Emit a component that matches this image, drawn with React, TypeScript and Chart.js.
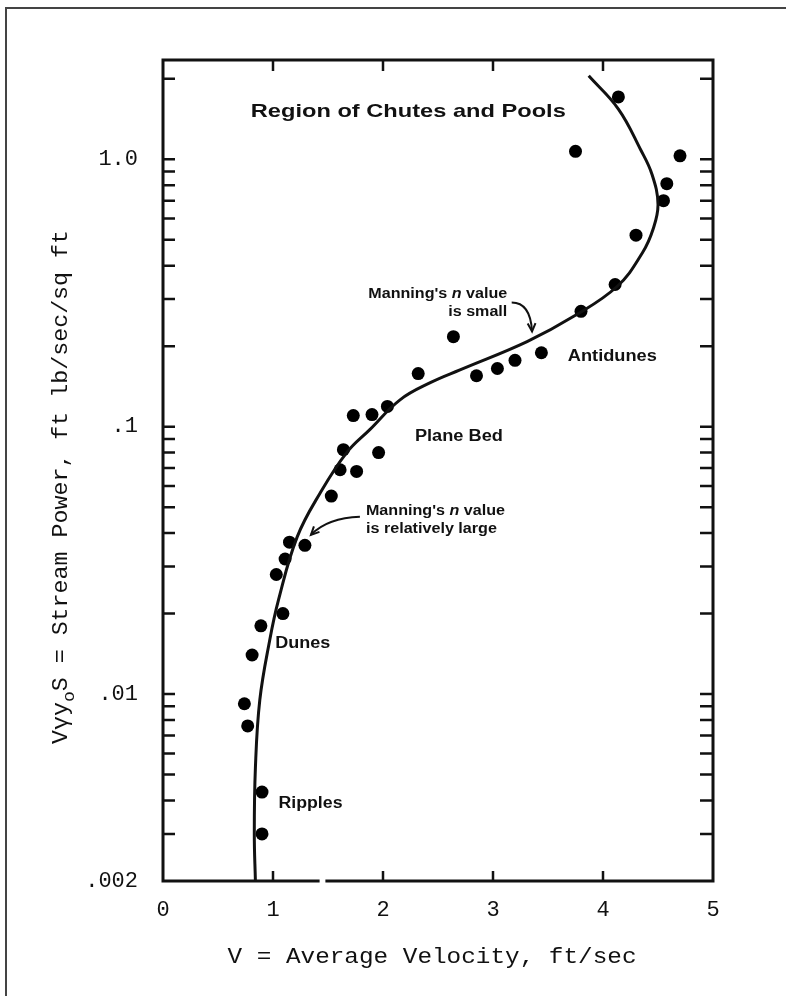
import React, { useEffect, useRef } from "react";
import { Chart, registerables } from "chart.js";

Chart.register(...registerables);

// ---- data ----
const obsVelocity = [4.14, 3.75, 4.70, 4.58, 4.55, 4.30, 4.11, 3.80, 2.64, 2.32, 2.85, 3.04, 3.20, 3.44, 1.73, 1.90, 2.04, 1.64, 1.96, 1.61, 1.76, 1.53, 1.15, 1.29, 1.11, 1.03, 1.09, 0.89, 0.81, 0.74, 0.77, 0.90, 0.90];
const obsPower = [1.71, 1.07, 1.03, 0.81, 0.70, 0.52, 0.34, 0.27, 0.217, 0.158, 0.155, 0.165, 0.177, 0.189, 0.110, 0.111, 0.119, 0.082, 0.080, 0.069, 0.068, 0.055, 0.037, 0.036, 0.032, 0.028, 0.020, 0.018, 0.014, 0.0092, 0.0076, 0.0043, 0.0030];

const curveVelocity = [0.84, 0.83, 0.84, 0.88, 0.97, 1.05, 1.22, 1.43, 1.67, 1.88, 2.155, 2.43, 2.70, 3.31, 3.73, 4.13, 4.36, 4.455, 4.50, 4.445, 4.34, 4.14, 3.87];
const curvePower = [0.002, 0.003, 0.0053, 0.0095, 0.0159, 0.0225, 0.0387, 0.0566, 0.080, 0.0975, 0.126, 0.146, 0.163, 0.208, 0.258, 0.335, 0.448, 0.547, 0.678, 0.879, 1.09, 1.54, 2.05];

const xRange = [0, 5];
const yRange = [0.002, 2.35];
const xTickValues = [0, 1, 2, 3, 4, 5];
const xInnerTicks = [1, 2, 3, 4];
const yLabeledTicks = [0.002, 0.01, 0.1, 1];
const yTickText = [".002", ".01", ".1", "1.0"];
const yMinorTicks = [
  0.003, 0.004, 0.005, 0.006, 0.007, 0.008, 0.009, 0.01,
  0.02, 0.03, 0.04, 0.05, 0.06, 0.07, 0.08, 0.09, 0.1,
  0.2, 0.3, 0.4, 0.5, 0.6, 0.7, 0.8, 0.9, 1, 2,
];
const axisBreak = [1.41, 1.49];

const xTitle = "V = Average Velocity, ft/sec";
const yTitleParts = ["V\u03B3y", "o", "S = Stream Power, ft lb/sec/sq ft"];

const regionText = ["Region of Chutes and Pools", "Antidunes", "Plane Bed", "Dunes", "Ripples"];
const regionV = [2.23, 3.68, 2.29, 1.02, 1.05];
const regionP = [1.50, 0.183, 0.0918, 0.0155, 0.0039];

const noteLine1 = ["Manning's ", "n", " value"];
const smallNoteLine2 = "is small";
const largeNoteLine2 = "is relatively large";
const smallNoteV = 3.13;
const smallNoteP = [0.312, 0.267];
const largeNoteV = 1.845;
const largeNoteP = [0.0485, 0.0415];
// arrows: start, control, end  (velocity, power)
const smallArrow = [[3.17, 0.291], [3.34, 0.291], [3.355, 0.227]];
const largeArrow = [[1.79, 0.046], [1.5, 0.0456], [1.345, 0.0394]];

const MONO = "'Liberation Mono', 'DejaVu Sans Mono', monospace";
const SANS = "'Liberation Sans', Arial, 'Noto Sans', sans-serif";
const INK = "#111";

type Seg = { text: string; font: string; dy?: number };

function drawRich(ctx: CanvasRenderingContext2D, segs: Seg[], x: number, y: number, width: number, align: "left" | "center" | "right") {
  ctx.save();
  let total = 0;
  const ws = segs.map((s) => {
    ctx.font = s.font;
    const w = ctx.measureText(s.text).width;
    total += w;
    return w;
  });
  const sx = width ? width / total : 1;
  ctx.translate(x, y);
  ctx.scale(sx, 1);
  let cx = align === "left" ? 0 : align === "center" ? -total / 2 : -total;
  ctx.textAlign = "left";
  ctx.textBaseline = "middle";
  ctx.fillStyle = INK;
  segs.forEach((s, i) => {
    ctx.font = s.font;
    ctx.fillText(s.text, cx, s.dy || 0);
    cx += ws[i];
  });
  ctx.restore();
}

function drawArrow(ctx: CanvasRenderingContext2D, pts: number[][]) {
  const [a, c, b] = pts;
  ctx.save();
  ctx.strokeStyle = INK;
  ctx.lineWidth = 2;
  ctx.beginPath();
  ctx.moveTo(a[0], a[1]);
  ctx.quadraticCurveTo(c[0], c[1], b[0], b[1]);
  ctx.stroke();
  const ang = Math.atan2(b[1] - c[1], b[0] - c[0]);
  const L = 9;
  ctx.beginPath();
  ctx.moveTo(b[0] - L * Math.cos(ang - 0.45), b[1] - L * Math.sin(ang - 0.45));
  ctx.lineTo(b[0], b[1]);
  ctx.lineTo(b[0] - L * Math.cos(ang + 0.45), b[1] - L * Math.sin(ang + 0.45));
  ctx.stroke();
  ctx.restore();
}

const decorPlugin = {
  id: "figureDecor",
  afterDraw(chart: any) {
    const ctx: CanvasRenderingContext2D = chart.ctx;
    const xs = chart.scales.x;
    const ys = chart.scales.y;
    const { left, right, top, bottom } = chart.chartArea;
    const px = (v: number) => xs.getPixelForValue(v);
    const py = (v: number) => ys.getPixelForValue(v);

    ctx.save();
    // outer frame of the figure
    ctx.strokeStyle = "#444";
    ctx.lineWidth = 2;
    ctx.beginPath();
    ctx.moveTo(6, chart.height);
    ctx.lineTo(6, 8);
    ctx.lineTo(chart.width, 8);
    ctx.stroke();

    // plot box
    ctx.strokeStyle = INK;
    ctx.lineWidth = 3;
    ctx.lineCap = "square";
    ctx.beginPath();
    ctx.moveTo(px(axisBreak[0]), bottom);
    ctx.lineTo(left, bottom);
    ctx.lineTo(left, top);
    ctx.lineTo(right, top);
    ctx.lineTo(right, bottom);
    ctx.lineTo(px(axisBreak[1]), bottom);
    ctx.stroke();

    // inward tick marks
    ctx.lineWidth = 2.5;
    ctx.lineCap = "butt";
    ctx.beginPath();
    yMinorTicks.forEach((v) => {
      const y = py(v);
      ctx.moveTo(left, y);
      ctx.lineTo(left + 12, y);
      ctx.moveTo(right - 13, y);
      ctx.lineTo(right, y);
    });
    xInnerTicks.forEach((v) => {
      const x = px(v);
      ctx.moveTo(x, bottom);
      ctx.lineTo(x, bottom - 10);
      ctx.moveTo(x, top);
      ctx.lineTo(x, top + 11);
    });
    ctx.stroke();
    ctx.restore();

    // axis titles
    drawRich(ctx, [{ text: xTitle, font: `22px ${MONO}` }], 432, 957, 409, "center");
    ctx.save();
    ctx.translate(61, 487);
    ctx.rotate(-Math.PI / 2);
    drawRich(
      ctx,
      [
        { text: yTitleParts[0], font: `22px ${MONO}` },
        { text: yTitleParts[1], font: `17px ${MONO}`, dy: 8 },
        { text: yTitleParts[2], font: `22px ${MONO}` },
      ],
      0,
      0,
      514,
      "center"
    );
    ctx.restore();

    // region labels
    const regionWidths = [315, 89, 88, 55, 64];
    regionText.forEach((t, i) => {
      const size = i === 0 ? 19 : 16;
      drawRich(ctx, [{ text: t, font: `bold ${size}px ${SANS}` }], px(regionV[i]), py(regionP[i]), regionWidths[i], i === 0 ? "center" : "left");
    });

    // Manning notes
    const l1 = (size: number): Seg[] => [
      { text: noteLine1[0], font: `bold ${size}px ${SANS}` },
      { text: noteLine1[1], font: `italic bold ${size}px ${SANS}` },
      { text: noteLine1[2], font: `bold ${size}px ${SANS}` },
    ];
    drawRich(ctx, l1(14), px(smallNoteV), py(smallNoteP[0]), 139, "right");
    drawRich(ctx, [{ text: smallNoteLine2, font: `bold 14px ${SANS}` }], px(smallNoteV), py(smallNoteP[1]), 59, "right");
    drawRich(ctx, l1(14), px(largeNoteV), py(largeNoteP[0]), 139, "left");
    drawRich(ctx, [{ text: largeNoteLine2, font: `bold 14px ${SANS}` }], px(largeNoteV), py(largeNoteP[1]), 131, "left");

    drawArrow(ctx, smallArrow.map((p) => [px(p[0]), py(p[1])]));
    drawArrow(ctx, largeArrow.map((p) => [px(p[0]), py(p[1])]));
  },
};

export default function App() {
  const canvasRef = useRef<HTMLCanvasElement | null>(null);

  useEffect(() => {
    const canvas = canvasRef.current;
    if (!canvas) return;
    const chart = new Chart(canvas, {
      type: "scatter",
      data: {
        datasets: [
          {
            label: "Trend",
            data: curveVelocity.map((v, i) => ({ x: v, y: curvePower[i] })),
            showLine: true,
            borderColor: INK,
            borderWidth: 3,
            pointRadius: 0,
            tension: 0.4,
            fill: false,
          },
          {
            label: "Observed",
            data: obsVelocity.map((v, i) => ({ x: v, y: obsPower[i] })),
            backgroundColor: "#000",
            borderWidth: 0,
            pointRadius: 6.5,
          },
        ],
      },
      plugins: [decorPlugin],
      options: {
        animation: false,
        responsive: false,
        devicePixelRatio: 1,
        layout: { padding: { left: 0, right: 73, top: 60, bottom: 0 } },
        plugins: { legend: { display: false }, tooltip: { enabled: false } },
        scales: {
          x: {
            type: "linear",
            min: xRange[0],
            max: xRange[1],
            bounds: "data",
            grid: { display: false },
            border: { display: false },
            afterFit: (s: any) => {
              s.height = 115;
            },
            afterBuildTicks: (s: any) => {
              s.ticks = xTickValues.map((v) => ({ value: v }));
            },
            ticks: {
              color: INK,
              padding: 8,
              font: { family: MONO, size: 22 },
              callback: (v: any) => String(v),
            },
          },
          y: {
            type: "logarithmic",
            min: yRange[0],
            max: yRange[1],
            bounds: "data",
            grid: { display: false },
            border: { display: false },
            afterFit: (s: any) => {
              s.width = 163;
            },
            afterBuildTicks: (s: any) => {
              s.ticks = yLabeledTicks.map((v) => ({ value: v }));
            },
            ticks: {
              color: INK,
              padding: 17,
              font: { family: MONO, size: 22 },
              callback: (_v: any, i: number) => yTickText[i],
            },
          },
        },
      },
    });
    return () => chart.destroy();
  }, []);

  return (
    <div style={{ position: "absolute", left: 0, top: 0, width: 786, height: 996, background: "#fff" }}>
      <canvas ref={canvasRef} width={786} height={996} />
    </div>
  );
}
